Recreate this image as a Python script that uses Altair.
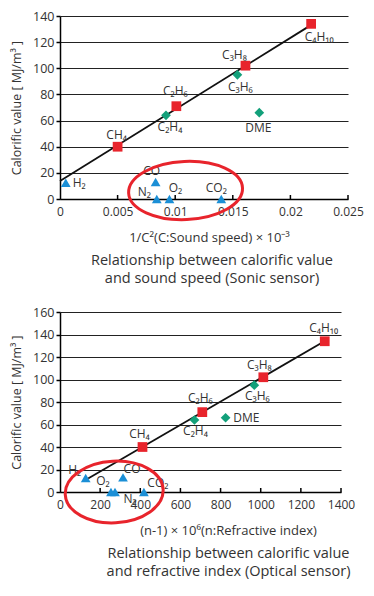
import altair as alt
import pandas as pd

# ---------------- data ----------------
gases = ["H₂", "CO", "N₂", "O₂", "CO₂", "CH₄", "C₂H₆", "C₃H₈", "C₄H₁₀", "C₂H₄", "C₃H₆", "DME"]
groups = ["inert", "inert", "inert", "inert", "inert",
          "alkane", "alkane", "alkane", "alkane",
          "alkene", "alkene", "alkene"]
calorific = [12.5, 13, 0, 0, 0, 40, 71, 102, 134, 64, 95, 66]

sonic_x = [0.0005, 0.0083, 0.0084, 0.0095, 0.0140, 0.0050, 0.0101, 0.0161, 0.0218, 0.0092, 0.0154, 0.0173]
optical_x = [128, 314, 274, 254, 418, 411, 709, 1013, 1319, 670, 968, 825]

sonic_line_x = [0, 0.0215]
sonic_line_y = [13.7, 131.5]
optical_line_x = [140, 1298]
optical_line_y = [12, 132]

sonic_ticks = [0, 0.005, 0.01, 0.015, 0.02, 0.025]
optical_ticks = [0, 200, 400, 600, 800, 1000, 1200, 1400]

sonic_circle = (0.0109, 6.5)
optical_circle = (270, 0)

# label offsets (pixels)
sonic_dx = [13.5, -4, -12.5, 6, -5, -1, -1, -11, 8, 4, 3, -1]
sonic_dy = [0, -11, -7, -11, -11, -12, -15, -11, 13, 12, 12, 15]
optical_dx = [-11, 9, 15, -8, 14, -3, -2, -4, -1, 1, 3, 20.7]
optical_dy = [-8, -8, 7, -11, -9, -13, -14, -12, -13, 11, 11, 0]

RED = "#e8242c"
GREEN = "#12a07a"
BLUE = "#1b8fd6"
TXT = "#333333"
FONT = "Open Sans"


def ellipse_path(ratio):
    k = 0.5523
    b = ratio
    return (f"M -1 0 C -1 {-k*b:.4f} {-k:.4f} {-b:.4f} 0 {-b:.4f} "
            f"C {k:.4f} {-b:.4f} 1 {-k*b:.4f} 1 0 "
            f"C 1 {k*b:.4f} {k:.4f} {b:.4f} 0 {b:.4f} "
            f"C {-k:.4f} {b:.4f} -1 {k*b:.4f} -1 0 Z")


def panel(xvals, xdomain, xticks, xfmt, xtitle, caption, w, h, ymax,
          lx, ly, circ, csize, cratio, cangle, ldx, ldy, title_x, cap_dx):
    df = pd.DataFrame({"gas": gases, "group": groups, "x": xvals, "y": calorific})
    xscale = alt.Scale(domain=xdomain, nice=False, zero=False)
    yscale = alt.Scale(domain=[0, ymax], nice=False)
    xaxis = alt.Axis(values=xticks, format=xfmt, title=xtitle, grid=False,
                     tickSize=0, domainColor="black", domainWidth=1.5,
                     labelFontSize=12, labelColor=TXT, labelPadding=7,
                     titleFontSize=13, titleFontWeight="normal",
                     titleColor=TXT, titlePadding=14, labelFlush=False,
                     titleX=title_x)
    yaxis = alt.Axis(values=list(range(0, ymax + 1, 20)),
                     title="Calorific value [ MJ/m³ ]", grid=True,
                     gridColor="#222222", gridWidth=1.1, tickSize=4,
                     tickColor="black", tickWidth=1.5, domainColor="black",
                     domainWidth=1.5, labelFontSize=12.5, labelColor=TXT,
                     labelPadding=2, titleFontSize=12.5,
                     titleFontWeight="normal", titleColor=TXT,
                     titlePadding=9)

    def X(f):
        return alt.X(f"{f}:Q", scale=xscale, axis=xaxis)

    def Y(f):
        return alt.Y(f"{f}:Q", scale=yscale, axis=yaxis)

    base = alt.Chart(df)
    pts = base.mark_point(filled=True, opacity=1, size=95).encode(
        x=X("x"), y=Y("y"),
        shape=alt.Shape("group:N", legend=None,
                        scale=alt.Scale(domain=["alkane", "alkene", "inert"],
                                        range=["square", "diamond", "triangle-up"])),
        color=alt.Color("group:N", legend=None,
                        scale=alt.Scale(domain=["alkane", "alkene", "inert"],
                                        range=[RED, GREEN, BLUE])),
    )
    label_layers = []
    for g, ddx, ddy in zip(gases, ldx, ldy):
        label_layers.append(
            base.transform_filter(alt.FieldEqualPredicate(field="gas", equal=g))
            .mark_text(fontSize=12, color=TXT, baseline="middle",
                       align="center", dx=ddx, dy=ddy)
            .encode(x=X("x"), y=Y("y"), text="gas:N")
        )
    line = alt.Chart(pd.DataFrame({"x": lx, "y": ly})).mark_line(
        color="#111111", strokeWidth=1.8).encode(x=X("x"), y=Y("y"))
    ticks = alt.Chart(pd.DataFrame({"x": xticks[1:]})).mark_rule(
        color="black", strokeWidth=1.5).encode(
        x=X("x"), y=alt.value(h), y2=alt.value(h - 4))
    ell = alt.Chart(pd.DataFrame({"x": [circ[0]], "y": [circ[1]]})).mark_point(
        shape=ellipse_path(cratio), size=csize, filled=False, opacity=1,
        stroke=RED, strokeWidth=3, angle=cangle).encode(x=X("x"), y=Y("y"))

    return alt.layer(line, ticks, pts, *label_layers, ell).properties(
        width=w, height=h,
        title=alt.TitleParams(text=caption, orient="bottom", anchor="middle",
                              frame="group", fontSize=14.5,
                              fontWeight="normal", color=TXT, lineHeight=18,
                              offset=10, dx=cap_dx),
    )


top = panel(sonic_x, [0, 0.025], sonic_ticks, "~g",
            "1/C²(C:Sound speed) × 10⁻³",
            ["Relationship between calorific value", "and sound speed (Sonic sensor)"],
            288, 183, 140, sonic_line_x, sonic_line_y, sonic_circle,
            114 ** 2, 0.51, 357.5, sonic_dx, sonic_dy, 149, 8)

bottom = panel(optical_x, [0, 1400], optical_ticks, "d",
               "(n-1) × 10⁶(n:Refractive index)",
               ["Relationship between calorific value", "and refractive index (Optical sensor)"],
               281, 180, 160, optical_line_x, optical_line_y, optical_circle,
               98 ** 2, 0.63, 357, optical_dx, optical_dy, 168, 28)

chart = alt.vconcat(top, bottom, spacing=20).properties(
    padding={"left": 2, "top": 2, "right": 0, "bottom": 0}
).configure(font=FONT).configure_view(stroke=None)

chart.save("out.html", embed_options={"renderer": "svg", "actions": False})
